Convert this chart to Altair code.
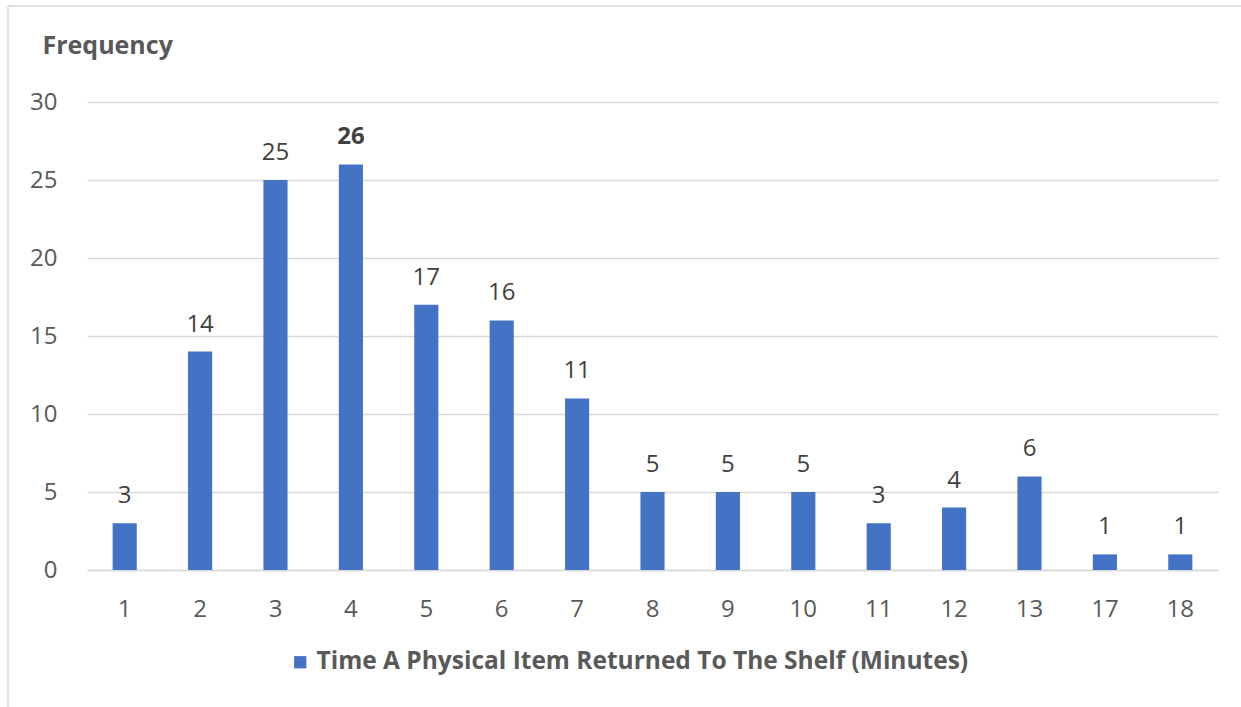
import altair as alt
import pandas as pd

minutes = ["1", "2", "3", "4", "5", "6", "7", "8", "9", "10", "11", "12", "13", "17", "18"]
frequency = [3, 14, 25, 26, 17, 16, 11, 5, 5, 5, 3, 4, 6, 1, 1]
series_name = "Time A Physical Item Returned To The Shelf (Minutes)"

df = pd.DataFrame({"Minutes": minutes, "Frequency": frequency})
df["Series"] = series_name
df["is_max"] = df["Frequency"] == max(frequency)

FONT = "Open Sans"
GREY = "#595959"
BLUE = "#4472C4"
NUM_SIZE = 24

x_enc = alt.X("Minutes:N", sort=minutes,
              scale=alt.Scale(paddingInner=0.68, paddingOuter=0.34),
              axis=alt.Axis(title=None, labelAngle=0, labelFontSize=NUM_SIZE, labelColor=GREY,
                            labelFont=FONT, ticks=False, grid=False, domainColor="#d9d9d9",
                            domainWidth=1.5, labelBaseline="alphabetic", labelPadding=46))
y_enc = alt.Y("Frequency:Q", scale=alt.Scale(domain=[0, 30]),
              axis=alt.Axis(values=[0, 5, 10, 15, 20, 25, 30], title="Frequency",
                            titleAngle=0, titleX=-45, titleY=-57, titleAlign="left",
                            titleBaseline="middle", titleFontSize=25, titleFont=FONT,
                            titleFontWeight="bold", titleColor=GREY,
                            labelFontSize=NUM_SIZE, labelColor=GREY, labelFont=FONT,
                            ticks=False, domain=False, labelPadding=30,
                            gridColor="#d9d9d9", gridWidth=1.5))

base = alt.Chart(df).encode(x=x_enc, y=y_enc)

bars = base.mark_bar(color=BLUE).encode(
    color=alt.Color("Series:N", scale=alt.Scale(range=[BLUE]),
                    legend=alt.Legend(title=None, orient="none", legendX=201, legendY=548,
                                      symbolType="square", symbolSize=150,
                                      symbolStrokeWidth=0,
                                      labelFontSize=24.5, labelFont=FONT, labelFontWeight="bold",
                                      labelColor=GREY, labelLimit=1000)),
)

labels = base.transform_filter("!datum.is_max").mark_text(
    dy=-20, baseline="alphabetic", fontSize=NUM_SIZE, font=FONT, color="#404040"
).encode(text="Frequency:Q")

labels_bold = base.transform_filter("datum.is_max").mark_text(
    dy=-20, baseline="alphabetic", fontSize=NUM_SIZE, font=FONT, color="#404040", fontWeight="bold"
).encode(text="Frequency:Q")

frame_left = alt.Chart().mark_rule(color="#d9d9d9", strokeWidth=1.5).encode(
    x=alt.value(-79), y=alt.value(-96), y2=alt.value(620))
frame_top = alt.Chart().mark_rule(color="#d9d9d9", strokeWidth=1.5).encode(
    x=alt.value(-79), x2=alt.value(1160), y=alt.value(-96))

chart = alt.layer(bars, labels, labels_bold, frame_left, frame_top).properties(
    width=1131, height=468,
    autosize=alt.AutoSizeParams(type="none"),
    padding={"left": 87, "top": 102, "right": 23, "bottom": 137},
    view=alt.ViewBackground(stroke="transparent", strokeWidth=0),
).configure_view(strokeWidth=0, stroke="transparent").configure(background="white")

chart.save("out.html", embed_options={"renderer": "svg", "actions": False})
